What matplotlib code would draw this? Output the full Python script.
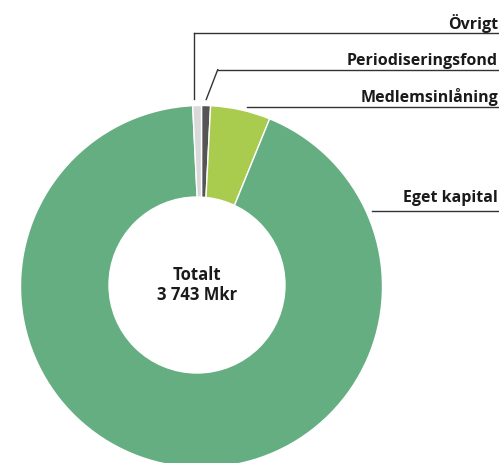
import matplotlib.pyplot as plt
import numpy as np

# Capital structure, Mkr (total 3 743)
labels = ["Periodiseringsfond", "Medlemsinlåning", "Eget kapital", "Övrigt"]
values = [30, 200, 3484, 29]
colors = ["#555555", "#a9cc4e", "#65ae81", "#d9d9d9"]
total_text = "Totalt\n3 743 Mkr"

W, H = 499, 464
fig = plt.figure(figsize=(W / 100, H / 100), dpi=100)
ax = fig.add_axes([0, 0, 1, 1])

cx, cy, R = 201.5, H - 287.5, 181  # pie centre in pixel units (y up)

wedges, _ = ax.pie(values, colors=colors, startangle=90, counterclock=False,
                   radius=R, center=(cx, cy),
                   wedgeprops=dict(edgecolor="white", linewidth=1))

# white hole (sits slightly left of the ring centre in the original)
ax.add_patch(plt.Circle((197, H - 286), 88, color="white", zorder=3))
ax.text(197, H - 285, total_text, ha="center", va="center", fontsize=12,
        fontweight="bold", family="Open Sans", linespacing=1.2,
        color="#1a1a1a", zorder=4)

ax.set_xlim(0, W)
ax.set_ylim(0, H)
ax.set_aspect("equal")
ax.axis("off")


def wedge_point(w, r):
    a = np.deg2rad((w.theta1 + w.theta2) / 2)
    return cx + r * np.cos(a), cy + r * np.sin(a)


# label rows: (text baseline y, rule y, rule start x) in pixels from top
label_rows = {
    "Övrigt": (29, 34, 193.5),
    "Periodiseringsfond": (65, 70.7, 217.7),
    "Medlemsinlåning": (102, 107.7, 246.7),
    "Eget kapital": (202, 212, 371.7),
}
line_kw = dict(color="#333333", linewidth=1)
for w, lab in zip(wedges, labels):
    base_y, rule_y, x0 = label_rows[lab]
    ax.plot([x0, 498], [H - rule_y, H - rule_y], **line_kw)
    ax.text(498, H - base_y, lab, ha="right", va="baseline", fontsize=11.5,
            fontweight="bold", family="Open Sans", color="#1a1a1a")
    if lab == "Övrigt":
        ax.plot([x0, x0], [H - rule_y, H - 100], **line_kw)
    elif lab == "Periodiseringsfond":
        px, py = wedge_point(w, R + 6)
        ax.plot([px, x0], [py, H - rule_y], **line_kw)

fig.savefig("out.png", dpi=100)
